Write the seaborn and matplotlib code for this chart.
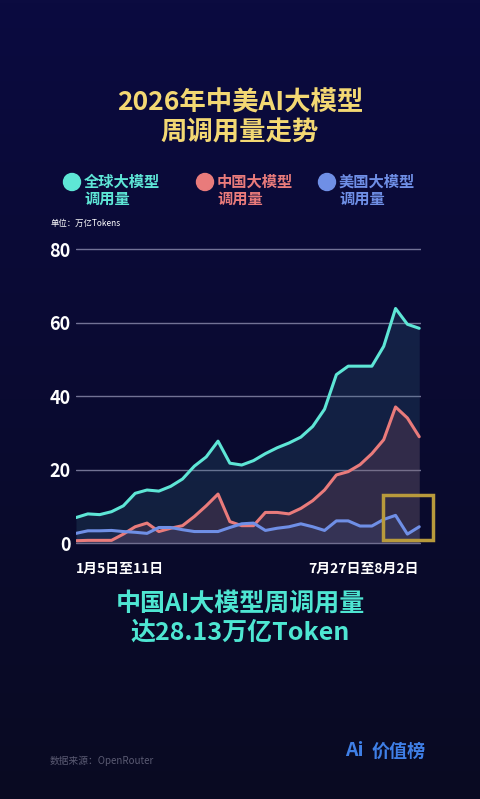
import numpy as np
import pandas as pd
import seaborn as sns
import matplotlib.pyplot as plt
from matplotlib.patches import Rectangle, Ellipse

# weekly call volume, unit: trillion tokens (week 1 = 1月5日至11日, week 30 = 7月27日至8月2日)
weeks = list(range(1, 31))
global_calls = [7.0, 8.0, 7.8, 8.6, 10.2, 13.6, 14.5, 14.2, 15.5, 17.5,
                21.0, 23.5, 27.8, 21.8, 21.3, 22.5, 24.4, 26.0, 27.3, 28.9,
                31.8, 36.5, 45.9, 48.2, 48.2, 48.2, 53.6, 63.9, 59.6, 58.5]
china_calls = [0.7, 0.8, 0.8, 0.8, 2.5, 4.5, 5.5, 3.2, 4.1, 4.8,
               7.3, 10.2, 13.4, 5.9, 4.8, 4.8, 8.4, 8.4, 8.0, 9.5,
               11.6, 14.5, 18.6, 19.5, 21.4, 24.4, 28.2, 37.1, 34.1, 29.0]
us_calls = [2.7, 3.4, 3.4, 3.5, 3.2, 3.0, 2.7, 4.3, 4.3, 3.7,
            3.2, 3.2, 3.2, 4.3, 5.3, 5.5, 3.5, 4.1, 4.5, 5.3,
            4.5, 3.5, 6.1, 6.1, 4.7, 4.7, 6.5, 7.6, 2.5, 4.5]
series_names = ["全球大模型\n调用量", "中国大模型\n调用量", "美国大模型\n调用量"]
series_colors = ["#5ee6d6", "#e97b7b", "#6f8fe6"]
y_ticks = [0, 20, 40, 60, 80]
x_labels = {1: "1月5日至11日", 30: "7月27日至8月2日"}

sns.set_theme(style="dark")
plt.rcParams["font.family"] = ["Noto Sans CJK SC", "DejaVu Sans"]

df = pd.DataFrame({"week": weeks, "全球": global_calls, "中国": china_calls, "美国": us_calls})
long_df = df.melt(id_vars="week", var_name="series", value_name="calls")

fig = plt.figure(figsize=(4.8, 7.99), dpi=100)

# background gradient
bg = fig.add_axes([0, 0, 1, 1], zorder=-10)
grad = np.linspace(0, 1, 256).reshape(-1, 1)
top = np.array([0x0b, 0x0b, 0x40]) / 255
bottom = np.array([0x09, 0x0a, 0x22]) / 255
img = top + (bottom - top) * grad[:, :, None] * np.ones((1, 1, 3))
bg.imshow(img, aspect="auto", extent=[0, 1, 0, 1])
bg.set_axis_off()

# main chart axes: 0 at y=543px, 80 at y=249px
ax = fig.add_axes([76 / 480, 1 - 550.65 / 799, (421 - 76) / 480, (550.65 - 241.95) / 799])
ax.set_facecolor("none")

palette = dict(zip(["全球", "中国", "美国"], series_colors))
sns.lineplot(data=long_df, x="week", y="calls", hue="series", palette=palette,
             linewidth=2.2, legend=False, ax=ax, zorder=3)
ax.fill_between(df["week"], df["全球"], color="#3a7a90", alpha=0.2, lw=0, zorder=1)
ax.fill_between(df["week"], df["中国"], color="#b05a6a", alpha=0.2, lw=0, zorder=2)
ax.fill_between(df["week"], df["美国"], color="#5a70c0", alpha=0.12, lw=0, zorder=2)

# highlight box around last weeks of US line
ax.add_patch(Rectangle((26.95, 0.9), 4.23, 12.2, fill=False, edgecolor="#b89a3c",
                       linewidth=2.5, zorder=4, clip_on=False))

ax.set_xlim(1, 30.15)
ax.set_ylim(-2, 82)
ax.set_yticks(y_ticks)
ax.set_yticklabels([str(t) for t in y_ticks], color="white", fontsize=13, fontweight="bold")
ax.set_xticks(list(x_labels.keys()))
ax.set_xticklabels(list(x_labels.values()), color="white", fontsize=10, fontweight="bold")
xt = ax.get_xticklabels()
xt[0].set_ha("left")
xt[1].set_ha("right")
ax.tick_params(axis="y", length=0, pad=4)
ax.tick_params(axis="x", length=0, pad=8)
ax.grid(axis="y", color="#b8b8d8", alpha=0.6, linewidth=1)
ax.grid(axis="x", visible=False)
ax.set_xlabel("")
ax.set_ylabel("")
for s in ax.spines.values():
    s.set_visible(False)

# title
fig.text(0.5, 1 - 103 / 799, "2026年中美AI大模型", ha="center", va="center",
         color="#f3d873", fontsize=19, fontweight="bold")
fig.text(0.5, 1 - 133 / 799, "周调用量走势", ha="center", va="center",
         color="#f3d873", fontsize=19, fontweight="bold")

# legend
for (cx, tx), name, c in zip([(72, 84), (205, 217), (327, 339)], series_names, series_colors):
    fig.add_artist(Ellipse((cx / 480, 1 - 182 / 799), 17 / 480, 17 / 799, color=c,
                           transform=fig.transFigure))
    fig.text(tx / 480, 1 - 190 / 799, name, ha="left", va="center", color=c,
             fontsize=11, fontweight="bold", linespacing=1.05)

fig.text(51 / 480, 1 - 223 / 799, "单位：万亿Tokens", ha="left", va="center",
         color="white", fontsize=6)

# headline
fig.text(0.5, 1 - 604 / 799, "中国AI大模型周调用量", ha="center", va="center",
         color="#4ee6d2", fontsize=18, fontweight="heavy")
fig.text(0.5, 1 - 633 / 799, "达28.13万亿Token", ha="center", va="center",
         color="#4ee6d2", fontsize=18, fontweight="heavy")

# footer
fig.text(50 / 480, 1 - 761 / 799, "数据来源：OpenRouter", ha="left", va="center",
         color="#5a5a72", fontsize=7)
fig.text(345 / 480, 1 - 751 / 799, "Ai", ha="left", va="center",
         color="#3f7fe6", fontsize=14, fontweight="bold", style="italic")
fig.text(372 / 480, 1 - 751 / 799, "价值榜", ha="left", va="center",
         color="#3f7fe6", fontsize=13, fontweight="bold", style="italic")

fig.savefig("out.png", dpi=100)
